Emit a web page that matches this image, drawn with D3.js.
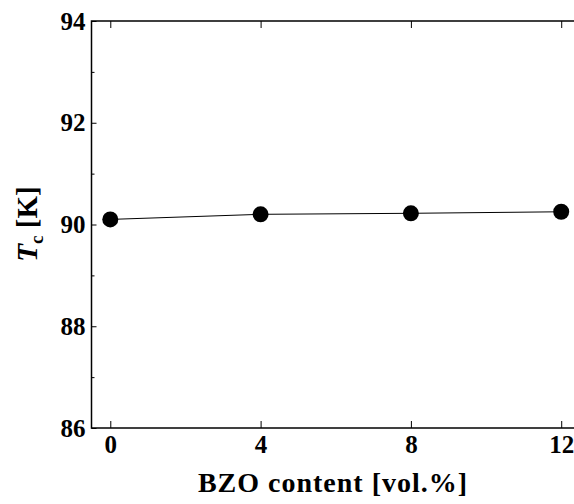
<!DOCTYPE html>
<html>
<head>
<meta charset="utf-8">
<script src="https://cdn.jsdelivr.net/npm/d3@7"></script>
<style>
  body { margin: 0; background: #fff; }
  text { font-family: "Liberation Serif", "Times New Roman", serif; font-weight: bold; }
</style>
</head>
<body>
<svg width="574" height="504"></svg>
<script>
// data
var bzo = [0, 4, 8, 12];
var tc = [90.1, 90.2, 90.22, 90.25];
var xTicks = [0, 4, 8, 12];
var yTicks = [86, 88, 90, 92, 94];
var yMinor = [87, 89, 91, 93];

var svg = d3.select("svg");
var pLeft = 91.5, pTop = 21, pBottom = 428, pRight = 580;

var xs = d3.scaleLinear().domain([-0.5, 12.5]).range([pLeft, pRight]);
var ys = d3.scaleLinear().domain([86, 94]).range([pBottom, pTop]);

// frame
svg.append("rect")
  .attr("x", pLeft).attr("y", pTop)
  .attr("width", pRight - pLeft).attr("height", pBottom - pTop)
  .attr("fill", "none").attr("stroke", "#000").attr("stroke-width", 1.5);

// x ticks, inward on bottom and top
svg.append("g").attr("transform", "translate(0," + pBottom + ")")
  .call(d3.axisBottom(xs).tickValues(xTicks).tickSize(-7).tickPadding(7).tickFormat(d3.format("d")));
svg.append("g").attr("transform", "translate(0," + pTop + ")")
  .call(d3.axisTop(xs).tickValues(xTicks).tickSize(-7).tickFormat(""));

svg.append("g").attr("transform", "translate(" + pLeft + ",0)")
  .call(d3.axisLeft(ys).tickValues(yTicks).tickSize(-5).tickPadding(6).tickFormat(d3.format("d")));
svg.append("g").attr("transform", "translate(" + pLeft + ",0)")
  .call(d3.axisLeft(ys).tickValues(yMinor).tickSize(-3).tickFormat(""));

svg.selectAll(".domain").remove();
svg.selectAll(".tick line").attr("stroke", "#000").attr("stroke-width", 1);
svg.selectAll(".tick text").attr("font-size", 25).attr("fill", "#000")
  .style("font-family", "'Liberation Serif', serif").style("font-weight", "bold");

// line + points
var line = d3.line().x(function(d, i) { return xs(bzo[i]); }).y(function(d) { return ys(d); });
svg.append("path").datum(tc).attr("d", line)
  .attr("fill", "none").attr("stroke", "#000").attr("stroke-width", 1);

svg.selectAll("circle").data(tc).enter().append("circle")
  .attr("cx", function(d, i) { return xs(bzo[i]); })
  .attr("cy", function(d) { return ys(d); })
  .attr("r", 8).attr("fill", "#000");

// axis titles
svg.append("text")
  .attr("x", 333).attr("y", 492)
  .attr("text-anchor", "middle").attr("font-size", 28)
  .attr("letter-spacing", 1)
  .text("BZO content [vol.%]");

var yl = svg.append("text")
  .attr("transform", "translate(37,224) rotate(-90)")
  .attr("text-anchor", "middle").attr("font-size", 29);
yl.append("tspan").attr("font-style", "italic").text("T");
yl.append("tspan").attr("font-size", 19).attr("dy", 6).text("c");
yl.append("tspan").attr("dy", -6).text(" [K]");
</script>
</body>
</html>
